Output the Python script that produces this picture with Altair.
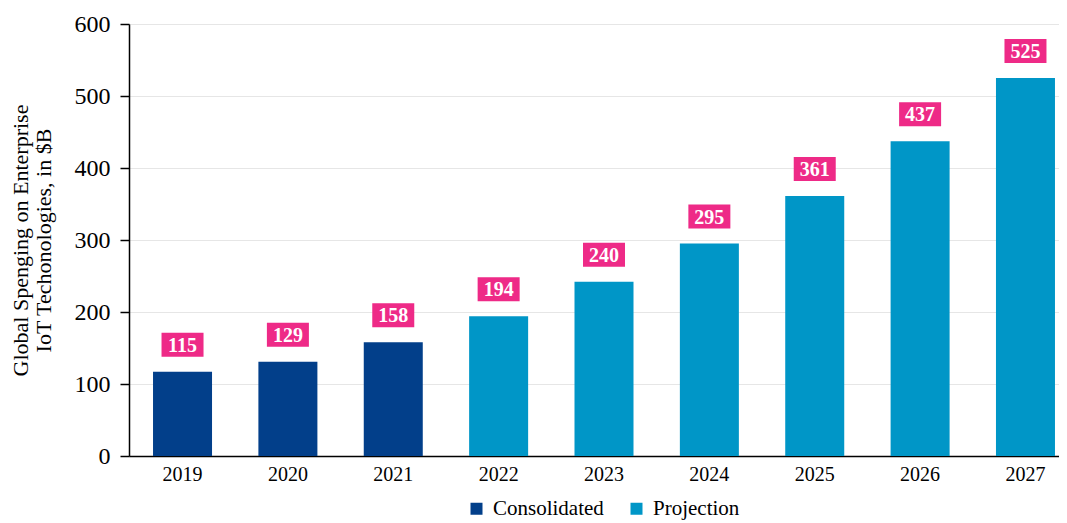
import altair as alt
import pandas as pd

years = ["2019", "2020", "2021", "2022", "2023", "2024", "2025", "2026", "2027"]
values = [117, 131, 158, 194, 242, 295, 361, 437, 525]
labels = ["115", "129", "158", "194", "240", "295", "361", "437", "525"]
status = ["Consolidated", "Consolidated", "Consolidated", "Projection", "Projection",
          "Projection", "Projection", "Projection", "Projection"]
series_names = ["Consolidated", "Projection"]
series_colors = ["#023F8A", "#0096C7"]
grid_values = [0, 50, 100, 150, 200, 250, 300, 350, 400, 450, 500, 550, 600]

df = pd.DataFrame({"year": years, "value": values, "label": labels, "status": status})

FONT = "Liberation Serif"

x = alt.X("year:N", sort=years, title=None,
          scale=alt.Scale(paddingInner=0.44, paddingOuter=0.228, range=[0, 950]),
          axis=alt.Axis(ticks=False, labelPadding=8, labelFontSize=20, labelFont=FONT,
                        labelColor="black", labelAngle=0, domainColor="black",
                        domainWidth=1.5, grid=False))

y = alt.Y("value:Q", title=["Global Spenging on Enterprise", "IoT Techonologies, in $B"],
          scale=alt.Scale(domain=[0, 600], nice=False),
          axis=alt.Axis(values=grid_values,
                        labelExpr="datum.value % 100 === 0 ? datum.label : ''",
                        tickOpacity={"condition": {"test": "datum.value % 100 === 0", "value": 1}, "value": 0},
                        tickSize=9, tickColor="black", tickWidth=1.5,
                        labelPadding=10, labelFontSize=24, labelFont=FONT, labelColor="black",
                        domainColor="black", domainWidth=1.5,
                        gridColor="#e6e6e6", gridWidth=1.2,
                        titleFont=FONT, titleFontSize=22, titleFontWeight="normal",
                        titleColor="black", titleLineHeight=23, titlePadding=19,
                        labelOverlap=False))

bars = alt.Chart(df).mark_bar().encode(
    x=x,
    y=y,
    color=alt.Color("status:N",
                    scale=alt.Scale(domain=series_names, range=series_colors),
                    legend=alt.Legend(title=None, orient="none", direction="horizontal",
                                      legendX=337, legendY=474, padding=0,
                                      symbolType="square", symbolSize=144,
                                      symbolStrokeWidth=0, labelFont=FONT,
                                      labelFontSize=21, labelColor="black",
                                      labelOffset=6, columnPadding=22)),
)

boxes = alt.Chart(df).mark_bar(width=42, color="#EE2A87", yOffset=-39, y2Offset=-15).encode(
    x=alt.X("year:N", sort=years),
    y=alt.Y("value:Q"),
    y2="value:Q",
)

texts = alt.Chart(df).mark_text(font=FONT, fontSize=20, fontWeight="bold", color="white",
                                baseline="middle", yOffset=-26).encode(
    x=alt.X("year:N", sort=years),
    y=alt.Y("value:Q"),
    text="label:N",
)

chart = alt.layer(bars, boxes, texts).properties(
    width=930, height=432,
    autosize=alt.AutoSizeParams(type="none"),
    padding={"left": 121, "top": 16, "right": 0, "bottom": 67},
).configure_view(stroke=None).configure(background="white")

chart.save("out.html", embed_options={"renderer": "svg", "actions": False})
